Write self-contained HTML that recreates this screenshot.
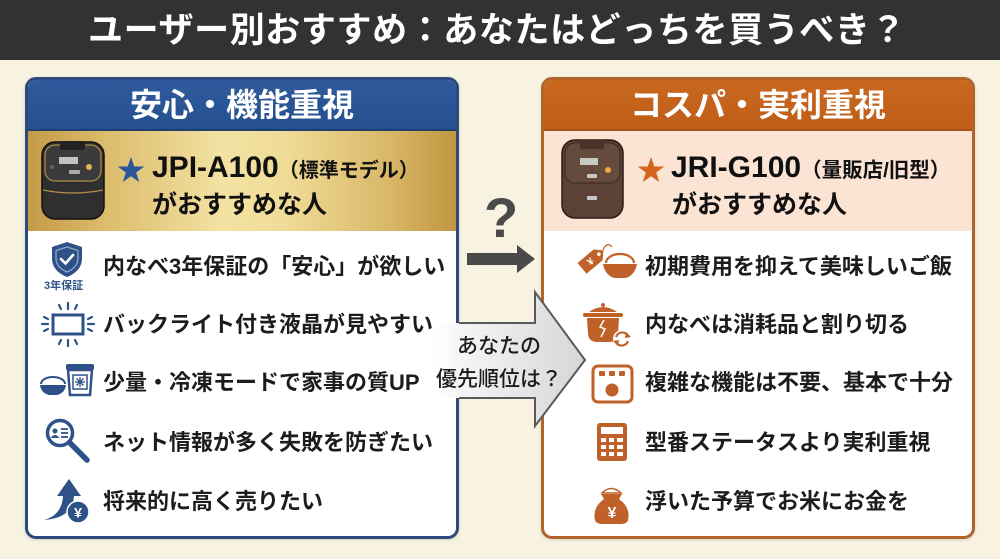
<!DOCTYPE html>
<html><head><meta charset="utf-8">
<style>
*{margin:0;padding:0;box-sizing:border-box}
body{width:1000px;height:559px;overflow:hidden;background:#f8f3e1;font-family:"Liberation Sans","Noto Sans CJK JP",sans-serif;position:relative}
.t{position:absolute;white-space:nowrap;line-height:1;font-weight:700}
.title{left:88px;top:13px;font-size:35px;letter-spacing:0.6px;color:#fff;font-weight:700}
.bar{position:absolute;left:0;top:0;width:1000px;height:60px;background:#323232}
.panel{position:absolute;top:77px;height:462px;border-radius:11px;overflow:hidden;background:#fff;box-shadow:0 1px 3px rgba(0,0,0,.15)}
.lp{left:25px;width:434px;border:3px solid #2c4a7c}
.rp{left:541px;width:434px;border:3px solid #b0642c}
.hd{position:absolute;left:0;top:0;width:100%;height:51px}
.band{position:absolute;left:0;top:51px;width:100%;height:100px}
.item{font-size:22px;color:#1c1c1c}
</style></head><body>
<div class="bar"></div>
<div class="t title">ユーザー別おすすめ：あなたはどっちを買うべき？</div>

<div class="panel lp">
  <div class="hd" style="background:linear-gradient(180deg,#2f5b9e,#24508f);border-bottom:2px solid #1f3f70"></div>
  <div class="band" style="background:linear-gradient(90deg,#c49a48 0%,#dcbc6c 18%,#f3e2a2 45%,#f0dc98 60%,#d8b666 85%,#c19540 100%)"></div>
</div>
<div class="panel rp">
  <div class="hd" style="background:linear-gradient(180deg,#c9681f,#bf5e18);border-bottom:2px solid #a5521a"></div>
  <div class="band" style="background:#fbe4d4"></div>
</div>

<svg width="1000" height="559" style="position:absolute;left:0;top:0" xmlns="http://www.w3.org/2000/svg">
  <defs>
    <linearGradient id="ag" x1="425" x2="585" y1="0" y2="0" gradientUnits="userSpaceOnUse">
      <stop offset="0" stop-color="#ffffff" stop-opacity="0"/>
      <stop offset="0.2" stop-color="#f6f6f6" stop-opacity="1"/>
      <stop offset="1" stop-color="#d6d6d6"/>
    </linearGradient>
  </defs>
  <!-- left rice cooker -->
  <g>
    <rect x="42" y="142" width="62" height="77" rx="13" fill="#2f2f2f" stroke="#111" stroke-width="1.5"/>
    <rect x="45" y="145" width="56" height="36" rx="10" fill="#3b3b3b" stroke="#b08c4a" stroke-width="1.2"/>
    <rect x="60" y="141" width="25" height="9" rx="2" fill="#222"/>
    <rect x="59" y="157" width="19" height="7" fill="#bfc3c2"/>
    <circle cx="89" cy="167" r="3" fill="#e0b84e"/>
    <circle cx="52" cy="167" r="2" fill="#666"/>
    <rect x="69" y="170" width="11" height="4" rx="1" fill="#aaa"/>
    <path d="M43,190 Q73,196 103,190" stroke="#b08c4a" stroke-width="1.2" fill="none"/>
  </g>
  <!-- right rice cooker -->
  <g>
    <rect x="562" y="140" width="61" height="78" rx="13" fill="#5c4136" stroke="#2a1c16" stroke-width="1.5"/>
    <rect x="565" y="143" width="55" height="40" rx="10" fill="#654a3e" stroke="#3a2820" stroke-width="1"/>
    <rect x="580" y="140" width="24" height="9" rx="2" fill="#4a332a"/>
    <rect x="580" y="158" width="18" height="7" fill="#c7c9c4"/>
    <circle cx="608" cy="170" r="3" fill="#f0a542"/>
    <rect x="587" y="174" width="10" height="4" rx="1" fill="#c8c8c8"/>
    <rect x="587" y="196" width="10" height="4" rx="1" fill="#c8c8c8"/>
  </g>
  <!-- stars -->
  <polygon points="131,157 134.3,166.5 144.3,166.5 136.2,172.5 139.2,182 131,176.2 122.8,182 125.8,172.5 117.7,166.5 127.7,166.5" fill="#2c559a"/>
  <polygon points="651,157 654.3,166.5 664.3,166.5 656.2,172.5 659.2,182 651,176.2 642.8,182 645.8,172.5 637.7,166.5 647.7,166.5" fill="#d4661c"/>

  <!-- ? arrow -->
  <rect x="467" y="253" width="52" height="12" fill="#4a4a4a"/>
  <polygon points="517,245 535,259 517,273" fill="#4a4a4a"/>

  <!-- big center arrow -->
  <polygon points="425,323 535,323 535,292 585,360 535,426 535,398 425,398" fill="url(#ag)"/>
  <polyline points="459,323 535,323 535,292 585,360 535,426 535,398 459,398" fill="none" stroke="#5a5a5a" stroke-width="2" stroke-linejoin="miter"/>

  <!-- LEFT ICONS (blue) -->
  <g fill="#2e5288" stroke="#2e5288">
    <path d="M67,242 L82,247 L82,258 C82,268 75,274 67,277 C59,274 52,268 52,258 L52,247 Z" stroke="none"/>
    <path d="M67,247 L78,250.5 L78,258 C78,265 73,269.5 67,272 C61,269.5 56,265 56,258 L56,250.5 Z" fill="none" stroke="#8fa6c8" stroke-width="1.3"/>
    <polyline points="61,259 65.5,263.5 73,255" fill="none" stroke="#fff" stroke-width="2.6" stroke-linecap="round"/>
    <rect x="53" y="315" width="30" height="19" fill="#fff" stroke-width="3"/>
    <g stroke-width="2.2" stroke-linecap="round">
      <line x1="68" y1="303" x2="68" y2="309"/><line x1="59" y1="305" x2="61" y2="309"/><line x1="77" y1="305" x2="75" y2="309"/>
      <line x1="68" y1="340" x2="68" y2="346"/><line x1="59" y1="344" x2="61" y2="340"/><line x1="77" y1="344" x2="75" y2="340"/>
      <line x1="42" y1="324" x2="48" y2="324"/><line x1="44" y1="317" x2="48" y2="319"/><line x1="44" y1="331" x2="48" y2="329"/>
      <line x1="88" y1="324" x2="94" y2="324"/><line x1="88" y1="319" x2="92" y2="317"/><line x1="88" y1="329" x2="92" y2="331"/>
    </g>
    <path d="M41,384 A12,7 0 0 1 65,384" fill="none" stroke-width="2"/>
    <path d="M40,385 L66,385 Q65,393 57,395 L49,395 Q41,393 40,385 Z" stroke="none"/>
    <rect x="66" y="364" width="28" height="6" rx="2" stroke="none"/>
    <path d="M68,370 L92,370 L90,395 L70,395 Z" fill="#fff" stroke-width="2.5"/>
    <rect x="73" y="375" width="14" height="14" fill="#fff" stroke-width="1.5"/>
    <g stroke-width="1.3"><line x1="80" y1="377" x2="80" y2="387"/><line x1="75" y1="382" x2="85" y2="382"/><line x1="76.5" y1="378.5" x2="83.5" y2="385.5"/><line x1="83.5" y1="378.5" x2="76.5" y2="385.5"/></g>
    <circle cx="60" cy="433" r="12.5" fill="#fff" stroke-width="3.5"/>
    <line x1="69.5" y1="442.5" x2="87" y2="460" stroke-width="5.5" stroke-linecap="round"/>
    <circle cx="55" cy="431" r="2.5" stroke="none"/>
    <path d="M50.5,438 Q55,432 59.5,438 Z" stroke="none"/>
    <g stroke-width="1.8"><line x1="61" y1="429" x2="68" y2="429"/><line x1="61" y1="433" x2="68" y2="433"/><line x1="61" y1="437" x2="68" y2="437"/></g>
    <path d="M44,520 Q62,515 63,496 L57,496 L69,479 L81,496 L74,496 Q73,518 44,520 Z" stroke="none"/>
    <circle cx="78" cy="512" r="11" stroke="#fff" stroke-width="1.5"/>
  </g>
  <text x="78" y="517.5" font-family="Liberation Sans, sans-serif" font-size="14" font-weight="700" fill="#fff" text-anchor="middle">¥</text>

  <!-- RIGHT ICONS (orange) -->
  <g fill="#c0612a" stroke="#c0612a">
    <!-- tag -->
    <g transform="rotate(-40 592 260)">
      <path d="M579,253 L600,253 L607,260 L600,267 L579,267 Z" stroke="none"/>
      <circle cx="601" cy="260" r="1.8" fill="#fff" stroke="none"/>
    </g>
    <path d="M603,250 Q607,241 612,247" fill="none" stroke-width="1.3"/>
    <path d="M606,263 A14,9 0 0 1 634,263" fill="#fff" stroke-width="2.2"/>
    <path d="M603,264 L637,264 Q635,275 626,278 L614,278 Q605,275 603,264 Z" stroke="none"/>
    <!-- pot -->
    <path d="M589,312 Q603,302 617,312 Z" stroke="none"/>
    <circle cx="603" cy="305" r="2" stroke="none"/>
    <rect x="583" y="313" width="40" height="4" rx="2" stroke="none"/>
    <path d="M587,318 L619,318 L618,334 Q617,342 609,342 L597,342 Q589,342 588,334 Z" stroke="none"/>
    <path d="M604,320 L600,327 L605,329 L601,337" fill="none" stroke="#fff" stroke-width="1.5"/>
    <circle cx="622" cy="339" r="9" fill="#fff" stroke="none"/>
    <path d="M616,337 A6.5,6.5 0 0 1 628,336" fill="none" stroke-width="2.2"/>
    <path d="M628,341 A6.5,6.5 0 0 1 616,342" fill="none" stroke-width="2.2"/>
    <polygon points="626,332 631,337 625,338" stroke="none"/>
    <polygon points="618,346 613,341 619,340" stroke="none"/>
    <!-- panel -->
    <rect x="593" y="366" width="39" height="36" rx="5" fill="#fff" stroke-width="3"/>
    <rect x="599" y="371" width="6" height="5" rx="1" stroke="none"/>
    <rect x="609" y="371" width="6" height="5" rx="1" stroke="none"/>
    <rect x="619" y="371" width="6" height="5" rx="1" stroke="none"/>
    <circle cx="612" cy="390" r="6.5" stroke="none"/>
    <!-- calculator -->
    <rect x="597" y="423" width="30" height="38" rx="3" stroke="none"/>
    <rect x="601" y="427" width="22" height="7" fill="#fff" stroke="none"/>
    <g fill="#fff" stroke="none">
      <rect x="601" y="438" width="5" height="4"/><rect x="609" y="438" width="5" height="4"/><rect x="617" y="438" width="6" height="4"/>
      <rect x="601" y="445" width="5" height="4"/><rect x="609" y="445" width="5" height="4"/><rect x="617" y="445" width="6" height="4"/>
      <rect x="601" y="452" width="5" height="4"/><rect x="609" y="452" width="5" height="4"/><rect x="617" y="452" width="6" height="4"/>
    </g>
    <!-- rice bag -->
    <path d="M602,493 Q611,484 621,493 Z" fill="#fff" stroke-width="1.5"/>
    <path d="M601,494 L622,494 L619,499 Q631,508 628,520 Q627,524 620,524 L603,524 Q596,524 595,520 Q592,508 604,499 Z" stroke="none"/>
  </g>
  <text x="612" y="518" font-family="Liberation Sans, sans-serif" font-size="16" font-weight="700" fill="#fff" text-anchor="middle">¥</text>
  <text x="590" y="265" font-family="Liberation Sans, sans-serif" font-size="10" font-weight="700" fill="#fff" text-anchor="middle" transform="rotate(-40 590 261)">¥</text>
</svg>

<!-- panel headers -->
<div class="t" style="left:25px;width:434px;text-align:center;top:89px;font-size:32px;color:#fff">安心・機能重視</div>
<div class="t" style="left:541px;width:434px;text-align:center;top:89px;font-size:32px;color:#fff">コスパ・実利重視</div>

<!-- band texts -->
<div class="t" style="left:152px;top:153px;font-size:30px;color:#111">JPI-A100<span style="font-size:20px">（標準モデル）</span></div>
<div class="t" style="left:152px;top:193px;font-size:25px;color:#111">がおすすめな人</div>
<div class="t" style="left:671px;top:153px;font-size:30px;color:#111">JRI-G100<span style="font-size:20.5px">（量販店/旧型）</span></div>
<div class="t" style="left:672px;top:193px;font-size:25px;color:#111">がおすすめな人</div>

<!-- left items -->
<div class="t" style="left:44px;top:281px;font-size:11px;color:#2e5288">3年保証</div>
<div class="t item" style="left:103px;top:256px">内なべ3年保証の「安心」が欲しい</div>
<div class="t item" style="left:103px;top:314px">バックライト付き液晶が見やすい</div>
<div class="t item" style="left:103px;top:372px">少量・冷凍モードで家事の質UP</div>
<div class="t item" style="left:103px;top:432px">ネット情報が多く失敗を防ぎたい</div>
<div class="t item" style="left:103px;top:491px">将来的に高く売りたい</div>

<!-- right items -->
<div class="t item" style="left:645px;top:256px">初期費用を抑えて美味しいご飯</div>
<div class="t item" style="left:645px;top:314px">内なべは消耗品と割り切る</div>
<div class="t item" style="left:645px;top:372px">複雑な機能は不要、基本で十分</div>
<div class="t item" style="left:645px;top:432px">型番ステータスより実利重視</div>
<div class="t item" style="left:645px;top:491px">浮いた予算でお米にお金を</div>

<!-- center texts -->
<div class="t" style="left:484px;top:190px;font-size:56px;color:#4a4a4a">?</div>
<div class="t" style="left:438px;width:122px;text-align:center;top:336px;font-size:21px;color:#1c1c1c;font-weight:500">あなたの</div>
<div class="t" style="left:432px;width:134px;text-align:center;top:369px;font-size:21px;color:#1c1c1c;font-weight:500">優先順位は？</div>
</body></html>
